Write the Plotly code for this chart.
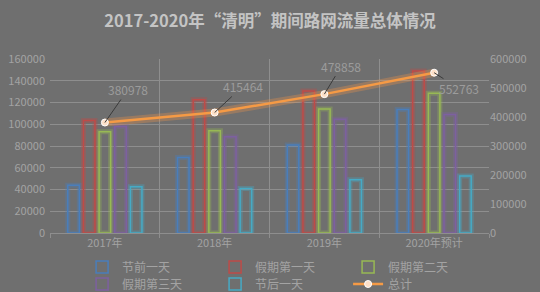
import plotly.graph_objects as go

categories = ["2017年", "2018年", "2019年", "2020年预计"]
series_names = ["节前一天", "假期第一天", "假期第二天", "假期第三天", "节后一天"]
before_day = [44000, 69500, 81000, 113500]
holiday_day1 = [103500, 122500, 130500, 149000]
holiday_day2 = [93000, 94000, 114000, 128500]
holiday_day3 = [98000, 88500, 104500, 109000]
after_day = [42500, 41000, 49000, 52500]
total = [380978, 415464, 478858, 552763]
total_name = "总计"

series_values = [before_day, holiday_day1, holiday_day2, holiday_day3, after_day]
colors = ["#4a7ebb", "#be4b48", "#98b954", "#7d60a0", "#46aac5"]
glow = ["rgba(74,126,187,0.35)", "rgba(190,75,72,0.35)", "rgba(152,185,84,0.35)",
        "rgba(125,96,160,0.35)", "rgba(70,170,197,0.35)"]
legend_ids = ["legend", "legend", "legend", "legend2", "legend2"]

BG = "#6f6f6f"
TXT = "#a3a3a3"
GRID = "#8e8e8e"
FONT = "Noto Sans CJK SC"

fig = go.Figure()
bw = 0.105
slot = 0.1427
start = -0.338
for i, (name, vals) in enumerate(zip(series_names, series_values)):
    off = start + i * slot
    fig.add_trace(go.Bar(x=categories, y=vals, width=bw, offset=off, showlegend=False,
                         marker=dict(color="rgba(0,0,0,0)", line=dict(color=glow[i], width=5)),
                         hoverinfo="skip"))
    fig.add_trace(go.Bar(x=categories, y=vals, name=name, width=bw, offset=off,
                         legend=legend_ids[i],
                         marker=dict(color="rgba(0,0,0,0)", line=dict(color=colors[i], width=1.5))))

fig.add_trace(go.Scatter(x=categories, y=total, yaxis="y2", mode="lines", showlegend=False,
                         line=dict(color="rgba(247,150,70,0.3)", width=8), hoverinfo="skip"))
fig.add_trace(go.Scatter(x=categories, y=total, yaxis="y2", mode="lines+markers", name=total_name,
                         legend="legend2",
                         line=dict(color="#f59a45", width=2.5),
                         marker=dict(size=7, color="#fde0c8", line=dict(color="#ffffff", width=1))))

label_offsets = [(23, -33), (28, -26), (17, -28), (25, 16)]
for cat, val, (ax, ay) in zip(categories, total, label_offsets):
    fig.add_annotation(x=cat, y=val, yref="y2", text=str(val), showarrow=True,
                       arrowhead=0, arrowwidth=1, arrowcolor="#3a3a3a", ax=ax, ay=ay,
                       font=dict(family=FONT, size=12, color="#9c9c9c"))

leg_common = dict(orientation="h", xanchor="left", yanchor="middle",
                  xref="container", yref="container",
                  entrywidth=88, entrywidthmode="pixels", bgcolor="rgba(0,0,0,0)",
                  font=dict(family=FONT, size=12, color=TXT), itemwidth=30)

fig.update_layout(
    width=540, height=292,
    paper_bgcolor=BG, plot_bgcolor=BG,
    margin=dict(l=50, r=51, t=59, b=59, autoexpand=False),
    barmode="overlay",
    font=dict(family=FONT, size=11, color=TXT),
    title=dict(text="<b>2017-2020年“清明”期间路网流量总体情况</b>", x=0.5, xanchor="center",
               y=1 - 21 / 292, yanchor="middle",
               font=dict(family=FONT, size=16.5, color="#c4c4c4")),
    xaxis=dict(type="category", tickson="boundaries", showgrid=True, gridcolor=GRID,
               gridwidth=1, ticks="outside", ticklen=4, tickcolor=GRID,
               showline=True, linecolor=GRID, tickfont=dict(size=11, color=TXT)),
    yaxis=dict(range=[0, 160000], dtick=20000, tickformat="d", showgrid=True, gridcolor=GRID,
               gridwidth=1, zeroline=False, tickfont=dict(size=11, color=TXT),
               ticklabelstandoff=4),
    yaxis2=dict(range=[0, 600000], dtick=100000, tickformat="d", overlaying="y", side="right",
                showgrid=False, zeroline=False, tickfont=dict(size=11, color=TXT)),
    legend=dict(x=0.152, y=1 - 267 / 292, **leg_common),
    legend2=dict(x=0.152, y=1 - 284 / 292, **leg_common),
    showlegend=True,
)

fig.write_html("out.html")
